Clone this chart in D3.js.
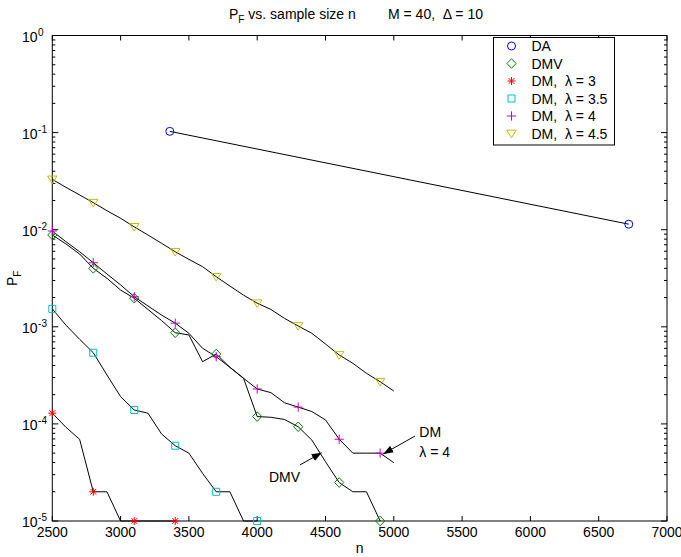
<!DOCTYPE html>
<html>
<head>
<meta charset="utf-8">
<script src="https://cdn.jsdelivr.net/npm/d3@7/dist/d3.min.js"></script>
<style>
body { margin: 0; background: #fff; }
svg { font-family: "Liberation Sans", Arial, Helvetica, sans-serif; }
text { white-space: pre; }
</style>
</head>
<body>
<svg width="681" height="557"></svg>
<script>
// sample sizes (one value every 100)
const nSteps = [2500, 2600, 2700, 2800, 2900, 3000, 3100, 3200, 3300, 3400,
                3500, 3600, 3700, 3800, 3900, 4000, 4100, 4200, 4300, 4400,
                4500, 4600, 4700, 4800, 4900, 5000];

// DA has only two points
const daN  = [3360, 6720];
const daPF = [0.103, 0.0114];

const dmvPF = [0.00882, 0.00713, 0.00562, 0.00400, 0.00316, 0.00239, 0.00197, 0.00151, 0.00116, 0.000869,
               0.000824, 0.000437, 0.000525, 0.000383, 0.000295, 0.000119, 0.000117, 0.000111, 0.0000935, 0.0000682,
               0.0000408, 0.0000249, 0.00002, 0.00002, 0.00001];

const dm3PF = [0.000129, 0.0000923, 0.0000694, 0.00002, 0.00002, 0.00001, 0.00001, 0.00001, 0.00001, 0.00001];

const dm35PF = [0.00153, 0.00104, 0.000744, 0.000541, 0.000319, 0.000191, 0.000139, 0.000129, 0.0000787, 0.0000596,
                0.00005, 0.000031, 0.00002, 0.00002, 0.00001, 0.00001];

const dm4PF = [0.00970, 0.00752, 0.00593, 0.00457, 0.00350, 0.00270, 0.00204, 0.00164, 0.00132, 0.00109,
               0.000857, 0.000601, 0.000492, 0.000383, 0.000295, 0.000229, 0.000210, 0.000165, 0.000149, 0.000134,
               0.000110, 0.0000695, 0.00005, 0.00005, 0.00005, 0.0000398];

const dm45PF = [0.0330, 0.0273, 0.0228, 0.0190, 0.0157, 0.0131, 0.0107, 0.00882, 0.00724, 0.00593,
                0.00495, 0.00416, 0.00328, 0.00263, 0.00212, 0.00175, 0.00151, 0.00122, 0.00102, 0.000857,
                0.000665, 0.000513, 0.000421, 0.000332, 0.000272, 0.000218];

const xTicks = [2500, 3000, 3500, 4000, 4500, 5000, 5500, 6000, 6500, 7000];
const yExponents = [0, -1, -2, -3, -4, -5];
const legendLabels = ["DA", "DMV", "DM,  \u03bb = 3", "DM,  \u03bb = 3.5", "DM,  \u03bb = 4", "DM,  \u03bb = 4.5"];

const svg = d3.select("svg"),
      width = +svg.attr("width"),
      height = +svg.attr("height");

const plotLeft = 52.3, plotRight = 667, plotTop = 35.5, plotBottom = 521;

const x = d3.scaleLinear().domain([2500, 7000]).range([plotLeft, plotRight]);
const y = d3.scaleLog().domain([1e-5, 1]).range([plotBottom, plotTop]);

// marker shapes drawn around (0,0)
const markerPaths = {
  circle:   d3.arc()({innerRadius: 0, outerRadius: 4, startAngle: 0, endAngle: 2 * Math.PI}),
  diamond:  "M0,-4.8L4.6,0L0,4.8L-4.6,0Z",
  asterisk: "M-4,0H4M0,-4V4M-2.9,-2.9L2.9,2.9M-2.9,2.9L2.9,-2.9",
  square:   "M-3.5,-3.5H3.5V3.5H-3.5Z",
  plus:     "M-4.6,0H4.6M0,-4.6V4.6",
  triangle: "M-4.7,-3.3L4.7,-3.3L0,4.3Z"
};

const series = [
  {name: legendLabels[0], n: daN, pf: daPF, color: "#0000ff", marker: "circle", every: 1},
  {name: legendLabels[1], n: nSteps, pf: dmvPF, color: "#008000", marker: "diamond", every: 3},
  {name: legendLabels[2], n: nSteps, pf: dm3PF, color: "#ff0000", marker: "asterisk", every: 3},
  {name: legendLabels[3], n: nSteps, pf: dm35PF, color: "#00bfbf", marker: "square", every: 3},
  {name: legendLabels[4], n: nSteps, pf: dm4PF, color: "#bf00bf", marker: "plus", every: 3},
  {name: legendLabels[5], n: nSteps, pf: dm45PF, color: "#bfbf00", marker: "triangle", every: 3}
];

series.forEach(function(s) {
  s.points = s.pf.map(function(v, i) { return {n: s.n[i], pf: v, i: i}; });
});

// title
const title = svg.append("text")
    .attr("x", 229)
    .attr("y", 19)
    .style("font-size", "14px");
title.append("tspan").text("P");
title.append("tspan").attr("dy", 4).style("font-size", "10px").text("F");
title.append("tspan").attr("dy", -4).text(" vs. sample size n");
svg.append("text")
    .attr("x", 388)
    .attr("y", 19)
    .style("font-size", "14px")
    .text("M = 40,  \u0394 = 10");

// axes box
svg.append("rect")
    .attr("x", plotLeft)
    .attr("y", plotTop)
    .attr("width", plotRight - plotLeft)
    .attr("height", plotBottom - plotTop)
    .attr("fill", "none")
    .attr("stroke", "#000")
    .attr("stroke-width", 1);

const ticks = svg.append("g").attr("stroke", "#000").attr("stroke-width", 1);

// x ticks, inward on bottom and top
xTicks.forEach(function(t) {
  ticks.append("line").attr("x1", x(t)).attr("x2", x(t)).attr("y1", plotBottom).attr("y2", plotBottom - 5);
  ticks.append("line").attr("x1", x(t)).attr("x2", x(t)).attr("y1", plotTop).attr("y2", plotTop + 5);
});

// y ticks: majors at decades, minors at 2..9
y.ticks().forEach(function(t) {
  const major = Math.abs(Math.log10(t) - Math.round(Math.log10(t))) < 1e-9;
  const len = major ? 6 : 3;
  ticks.append("line").attr("x1", plotLeft).attr("x2", plotLeft + len).attr("y1", y(t)).attr("y2", y(t));
  ticks.append("line").attr("x1", plotRight).attr("x2", plotRight - len).attr("y1", y(t)).attr("y2", y(t));
});

// x tick labels
svg.append("g").selectAll("text")
    .data(xTicks)
    .enter().append("text")
    .attr("x", function(d) { return x(d); })
    .attr("y", plotBottom + 16)
    .attr("text-anchor", "middle")
    .style("font-size", "14px")
    .text(function(d) { return d; });

// y tick labels 10^k
const yLab = svg.append("g").selectAll("text")
    .data(yExponents)
    .enter().append("text")
    .attr("x", 22)
    .attr("y", function(d) { return y(Math.pow(10, d)) + 6; })
    .style("font-size", "14px");
yLab.append("tspan").text("10");
yLab.append("tspan")
    .attr("dy", -6)
    .attr("dx", 0.5)
    .style("font-size", "10px")
    .text(function(d) { return d === 0 ? "0" : "-" + (-d); });

// axis labels
svg.append("text")
    .attr("x", (plotLeft + plotRight) / 2)
    .attr("y", 553)
    .attr("text-anchor", "middle")
    .style("font-size", "14px")
    .text("n");

const yTitle = svg.append("text")
    .attr("transform", "translate(17," + ((plotTop + plotBottom) / 2) + ") rotate(-90)")
    .attr("text-anchor", "middle")
    .style("font-size", "14px");
yTitle.append("tspan").text("P");
yTitle.append("tspan").attr("dy", 4).style("font-size", "10px").text("F");

// black connecting lines
const line = d3.line()
    .x(function(d) { return x(d.n); })
    .y(function(d) { return y(d.pf); });

svg.append("g")
    .attr("class", "lines")
    .selectAll("path")
    .data(series)
    .enter().append("path")
    .attr("d", function(d) { return line(d.points); })
    .attr("fill", "none")
    .attr("stroke", "#000")
    .attr("stroke-width", 1);

// coloured markers
series.forEach(function(s) {
  svg.append("g")
      .selectAll("path")
      .data(s.points.filter(function(p) { return p.i % s.every === 0; }))
      .enter().append("path")
      .attr("transform", function(p) { return "translate(" + x(p.n) + "," + y(p.pf) + ")"; })
      .attr("d", markerPaths[s.marker])
      .attr("fill", "none")
      .attr("stroke", s.color)
      .attr("stroke-width", 1);
});

// legend
const legend = svg.append("g");
legend.append("rect")
    .attr("x", 493.5)
    .attr("y", 37.5)
    .attr("width", 121)
    .attr("height", 107.5)
    .attr("fill", "#fff")
    .attr("stroke", "#000")
    .attr("stroke-width", 1);

const rows = legend.selectAll("g.row")
    .data(series)
    .enter().append("g")
    .attr("class", "row")
    .attr("transform", function(d, i) { return "translate(0," + (46 + i * 17.5) + ")"; });

rows.append("path")
    .attr("transform", "translate(511.5,0)")
    .attr("d", function(d) { return markerPaths[d.marker]; })
    .attr("fill", "none")
    .attr("stroke", function(d) { return d.color; })
    .attr("stroke-width", 1);

rows.append("text")
    .attr("x", 531.5)
    .attr("y", 5)
    .style("font-size", "14px")
    .text(function(d) { return d.name; });

// annotations with arrows
svg.append("defs").append("marker")
    .attr("id", "head")
    .attr("viewBox", "0 0 10 10")
    .attr("refX", 10)
    .attr("refY", 5)
    .attr("markerWidth", 10)
    .attr("markerHeight", 10)
    .attr("markerUnits", "userSpaceOnUse")
    .attr("orient", "auto")
    .append("path")
    .attr("d", "M0,1.2L10,5L0,8.8Z")
    .attr("fill", "#000");

svg.append("line")
    .attr("x1", x(4313)).attr("y1", y(3.78e-5))
    .attr("x2", x(4472)).attr("y2", y(5.05e-5))
    .attr("stroke", "#000")
    .attr("stroke-width", 1)
    .attr("marker-end", "url(#head)");
svg.append("text")
    .attr("x", x(4086))
    .attr("y", y(2.52e-5))
    .style("font-size", "14px")
    .text("DMV");

svg.append("line")
    .attr("x1", x(5155)).attr("y1", y(7.5e-5))
    .attr("x2", x(4923)).attr("y2", y(4.9e-5))
    .attr("stroke", "#000")
    .attr("stroke-width", 1)
    .attr("marker-end", "url(#head)");
svg.append("text")
    .attr("x", x(5187))
    .attr("y", y(7.4e-5))
    .style("font-size", "14px")
    .text("DM");
svg.append("text")
    .attr("x", x(5187))
    .attr("y", y(4.6e-5))
    .style("font-size", "14px")
    .text("\u03bb = 4");
</script>
</body>
</html>
